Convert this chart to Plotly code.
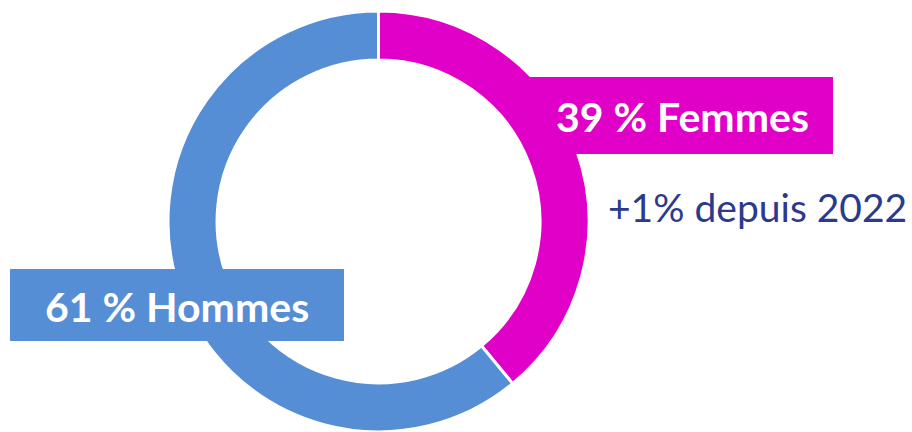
import plotly.graph_objects as go

# données
labels = ["Femmes", "Hommes"]
values = [39, 61]
colors = ["#E100C8", "#558ED5"]
box_texts = ["39 % Femmes", "61 % Hommes"]
evolution = "+1% depuis 2022"

W, H = 912, 432


def px(x):
    return x / W


def py(y):
    # y en pixels depuis le haut -> coordonnée papier
    return 1 - y / H


fig = go.Figure()

fig.add_trace(go.Pie(
    labels=labels, values=values, hole=0.767, sort=False, direction="clockwise",
    rotation=0, textinfo="none", hoverinfo="label+percent",
    marker=dict(colors=colors, line=dict(color="white", width=3)),
    domain=dict(x=[px(168), px(589)], y=[0, 0.975]),
    showlegend=False,
))

# boîtes des libellés
fig.add_shape(type="rect", xref="paper", yref="paper", layer="above",
              x0=px(527), x1=px(833), y0=py(154), y1=py(77),
              fillcolor=colors[0], line_width=0)
fig.add_shape(type="rect", xref="paper", yref="paper", layer="above",
              x0=px(10), x1=px(344), y0=py(341), y1=py(269),
              fillcolor=colors[1], line_width=0)

font_bold = dict(family="Lato", size=41, color="white", weight="bold")
fig.add_annotation(x=px(682), y=py(117), xref="paper", yref="paper", text=box_texts[0],
                   showarrow=False, font=font_bold, xanchor="center", yanchor="middle")
fig.add_annotation(x=px(177), y=py(306), xref="paper", yref="paper", text=box_texts[1],
                   showarrow=False, font=font_bold, xanchor="center", yanchor="middle")
fig.add_annotation(x=px(757), y=py(207), xref="paper", yref="paper", text=evolution,
                   showarrow=False, font=dict(family="Lato", size=39, color="#2B3A8C"),
                   xanchor="center", yanchor="middle")

fig.update_layout(width=W, height=H, margin=dict(l=0, r=0, t=0, b=0),
                  paper_bgcolor="white", plot_bgcolor="white")

# pas de marge par défaut autour de la page, pas de barre d'outils
fig.write_html("out.html", config={"displayModeBar": False},
               post_script="document.body.style.margin = '0';")
